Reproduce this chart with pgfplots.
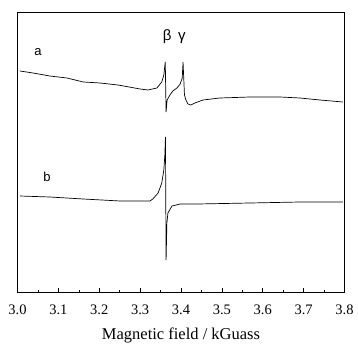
\documentclass[border=0pt]{standalone}
\usepackage{pgfplots}
\pgfplotsset{compat=1.18}
\usepackage{fontspec}
\setmainfont{Liberation Serif}
\newfontfamily\sansf{Liberation Sans}
\begin{document}
\begin{tikzpicture}
\begin{axis}[
  at={(0,0)}, anchor=south west,
  width=327pt, height=280pt, scale only axis,
  xmin=3.0, xmax=3.8, ymin=-292, ymax=-12,
  xtick={3.0,3.1,...,3.8},
  xticklabel={\fontsize{14.5}{14.5}\selectfont\pgfmathprintnumber[fixed,fixed zerofill,precision=1,assume math mode=true]{\tick}},
  minor x tick num=1,
  ytick=\empty,
  xtick pos=lower, tick align=inside,
  major tick length=4pt, minor tick length=2pt,
  xticklabel style={yshift=-9pt},
  xlabel={Magnetic field / kGuass},
  xlabel style={font=\fontsize{16.5}{16.5}\selectfont, yshift=-7pt},
  axis line style={line width=0.8pt},
  every tick/.style={line width=0.6pt,black},
  clip=false,
]
\addplot[black, line width=0.7pt] coordinates {
(3.006,-71) (3.038,-73) (3.079,-76) (3.121,-78) (3.161,-82) (3.202,-83) (3.246,-85)
(3.300,-89) (3.319,-90) (3.341,-88) (3.353,-82) (3.358,-75) (3.3615,-62) (3.3635,-112)
(3.366,-100) (3.373,-95) (3.380,-91) (3.390,-88) (3.398,-84) (3.403,-78) (3.405,-62)
(3.4085,-95) (3.412,-100) (3.417,-104) (3.424,-105) (3.434,-103) (3.454,-100) (3.495,-98)
(3.569,-97) (3.642,-97) (3.691,-98) (3.740,-100) (3.796,-102)
};
\addplot[black, line width=0.7pt] coordinates {
(3.006,-196) (3.079,-197) (3.161,-199) (3.251,-201) (3.324,-201) (3.331,-199)
(3.344,-193) (3.353,-183) (3.358,-170) (3.3605,-155) (3.362,-137) (3.3635,-260)
(3.3655,-223) (3.368,-213) (3.378,-206) (3.398,-204) (3.441,-204) (3.569,-203)
(3.691,-202) (3.796,-202)
};
\node[font=\sansf\fontsize{13}{13}\selectfont] at (axis cs:3.05,-52) {a};
\node[font=\sansf\fontsize{13}{13}\selectfont] at (axis cs:3.072,-177) {b};
\node[font=\sansf\fontsize{15}{15}\selectfont] at (axis cs:3.366,-37) {β};
\node[font=\sansf\fontsize{15}{15}\selectfont] at (axis cs:3.402,-38) {γ};
\end{axis}
\pgfresetboundingbox
\path[use as bounding box] (-17.5pt,-53pt) rectangle (340.5pt,292pt);
\end{tikzpicture}
\end{document}
